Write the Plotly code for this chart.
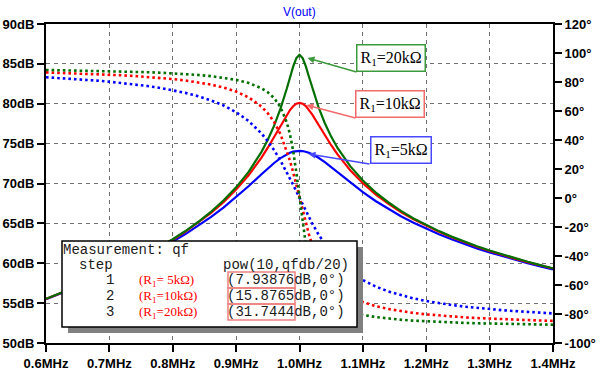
import plotly.graph_objects as go

# ---------------- data ----------------
freq_mhz = [0.60, 0.62, 0.64, 0.66, 0.68, 0.70, 0.72, 0.74, 0.76, 0.78,
            0.80, 0.82, 0.84, 0.86, 0.88, 0.90, 0.92, 0.94, 0.95, 0.96,
            0.97, 0.98, 0.985, 0.99, 0.995, 1.00, 1.005, 1.01, 1.015, 1.02,
            1.03, 1.04, 1.05, 1.06, 1.08, 1.10, 1.12, 1.14, 1.16, 1.18,
            1.20, 1.22, 1.24, 1.26, 1.28, 1.30, 1.32, 1.34, 1.36, 1.38, 1.40]

# magnitude, dB (left axis)
mag_5k = [55.48, 56.09, 56.72, 57.37, 58.03, 58.72, 59.44, 60.19, 60.98, 61.82,
          62.71, 63.66, 64.68, 65.78, 66.98, 68.29, 69.69, 71.16, 71.88, 72.57,
          73.18, 73.67, 73.85, 73.99, 74.07, 74.09, 74.07, 73.99, 73.86, 73.68,
          73.23, 72.67, 72.05, 71.41, 70.12, 68.91, 67.81, 66.81, 65.90, 65.08,
          64.33, 63.64, 63.01, 62.42, 61.87, 61.36, 60.89, 60.44, 60.01, 59.61, 59.23]
mag_10k = [55.52, 56.14, 56.78, 57.43, 58.11, 58.82, 59.55, 60.33, 61.15, 62.02,
           62.95, 63.96, 65.07, 66.29, 67.67, 69.24, 71.07, 73.24, 74.49, 75.83,
           77.25, 78.62, 79.21, 79.69, 80.01, 80.11, 80.01, 79.70, 79.24, 78.67,
           77.37, 76.05, 74.80, 73.65, 71.67, 70.04, 68.65, 67.47, 66.43, 65.51,
           64.69, 63.95, 63.27, 62.65, 62.07, 61.54, 61.04, 60.58, 60.14, 59.73, 59.34]
mag_20k = [55.54, 56.16, 56.80, 57.45, 58.13, 58.84, 59.58, 60.36, 61.19, 62.07,
           63.01, 64.04, 65.17, 66.43, 67.86, 69.52, 71.49, 73.97, 75.49, 77.25,
           79.38, 81.91, 83.30, 84.65, 85.72, 86.14, 85.72, 84.68, 83.36, 82.02,
           79.58, 77.56, 75.88, 74.46, 72.17, 70.37, 68.89, 67.65, 66.57, 65.62,
           64.78, 64.03, 63.34, 62.71, 62.13, 61.59, 61.09, 60.62, 60.18, 59.76, 59.37]

# phase, degrees (right axis)
phase_5k = [83.27, 82.77, 82.23, 81.62, 80.95, 80.19, 79.34, 78.36, 77.23, 75.92,
            74.37, 72.50, 70.23, 67.41, 63.84, 59.17, 52.98, 44.51, 39.17, 32.97,
            25.80, 17.79, 13.50, 9.07, 4.55, 0.0, -4.53, -8.98, -13.30, -17.46,
            -25.15, -31.92, -37.78, -42.80, -50.73, -56.59, -61.00, -64.39, -67.08, -69.26,
            -71.04, -72.54, -73.80, -74.89, -75.83, -76.65, -77.38, -78.02, -78.60, -79.12, -79.59]
phase_10k = [86.62, 86.37, 86.10, 85.79, 85.45, 85.06, 84.62, 84.12, 83.54, 82.85,
             82.03, 81.04, 79.81, 78.25, 76.20, 73.39, 69.34, 63.04, 58.45, 52.38,
             44.04, 32.68, 25.64, 17.70, 9.05, 0.0, -9.00, -17.54, -25.31, -32.17,
             -43.20, -51.25, -57.17, -61.63, -67.77, -71.74, -74.50, -76.53, -78.07, -79.28,
             -80.25, -81.06, -81.74, -82.31, -82.80, -83.23, -83.61, -83.95, -84.24, -84.51, -84.75]
phase_20k = [88.31, 88.18, 88.04, 87.89, 87.72, 87.52, 87.30, 87.05, 86.76, 86.41,
             86.00, 85.49, 84.86, 84.06, 82.99, 81.51, 79.32, 75.72, 72.93, 68.91,
             62.64, 52.05, 43.82, 32.54, 17.65, 0.0, -17.57, -32.28, -43.39, -51.50,
             -61.95, -68.12, -72.11, -74.88, -78.44, -80.63, -82.10, -83.16, -83.96, -84.59,
             -85.09, -85.50, -85.84, -86.13, -86.39, -86.60, -86.79, -86.96, -87.11, -87.25, -87.37]

series_names = ["R1=5kΩ", "R1=10kΩ", "R1=20kΩ"]
label_texts = ["R<sub>1</sub>=5kΩ", "R<sub>1</sub>=10kΩ", "R<sub>1</sub>=20kΩ"]
peak_freq = [1.0142, 1.011, 1.0126]
peak_db = [73.70, 79.84, 85.74]

x_ticks = [0.6, 0.7, 0.8, 0.9, 1.0, 1.1, 1.2, 1.3, 1.4]
x_tick_labels = ["0.6MHz", "0.7MHz", "0.8MHz", "0.9MHz", "1.0MHz",
                 "1.1MHz", "1.2MHz", "1.3MHz", "1.4MHz"]
db_ticks = [50, 55, 60, 65, 70, 75, 80, 85, 90]
db_tick_labels = [f"{v}dB" for v in db_ticks]
deg_ticks = [-100, -80, -60, -40, -20, 0, 20, 40, 60, 80, 100, 120]
deg_tick_labels = [f"{v}°" for v in deg_ticks]

meas_steps = ["1", "2", "3"]
meas_r_labels = ["(R<sub>1</sub>= 5kΩ)", "(R<sub>1</sub>=10kΩ)", "(R<sub>1</sub>=20kΩ)"]
meas_values = ["7.93876", "15.8765", "31.7444"]

# ---------------- styling ----------------
COL = ["#0000ff", "#ff0000", "#006f00"]
BOX_COL = ["#4848ff", "#f26a6a", "#3c9a3c"]

L, R, T, B = 46, 553, 24, 343
W, H = R - L, B - T


def px(X):
    return (X - L) / W


def py(Y):
    return (B - Y) / H


fig = go.Figure()

mags = [mag_5k, mag_10k, mag_20k]
phases = [phase_5k, phase_10k, phase_20k]

for i in range(3):
    fig.add_trace(go.Scatter(
        x=freq_mhz, y=phases[i], yaxis="y2", mode="lines",
        name=series_names[i] + " phase",
        line=dict(color=COL[i], width=2.6, dash="2.6px,3px"),
        hoverinfo="skip", showlegend=False))
for i in range(3):
    fig.add_trace(go.Scatter(
        x=freq_mhz, y=mags[i], mode="lines", name=series_names[i],
        line=dict(color=COL[i], width=2.2),
        showlegend=False))

axis_font = dict(family="Liberation Sans, Arial", size=13, color="black", weight="bold")
common = dict(showline=True, linecolor="black", linewidth=2, ticks="outside",
              ticklen=7, tickwidth=2, tickcolor="black", zeroline=False,
              tickfont=axis_font, automargin=False)

fig.update_layout(
    width=600, height=371,
    margin=dict(l=L, r=600 - R, t=T, b=371 - B),
    paper_bgcolor="white", plot_bgcolor="white",
    showlegend=False,
    xaxis=dict(range=[0.6, 1.4], tickvals=x_ticks, ticktext=x_tick_labels,
               mirror=True, showgrid=True, gridcolor="#707070", gridwidth=1,
               griddash="4px,4px", **common),
    yaxis=dict(range=[50, 90], tickvals=db_ticks, ticktext=db_tick_labels,
               mirror=True, showgrid=True, gridcolor="#707070", gridwidth=1,
               griddash="4px,4px", **common),
    yaxis2=dict(range=[-100, 120], tickvals=deg_ticks, ticktext=deg_tick_labels,
                overlaying="y", side="right", showgrid=False, **common),
)

# title
annotations = [dict(text="V(out)", xref="paper", yref="paper", x=0.5, y=py(12),
                    xanchor="center", yanchor="middle", showarrow=False,
                    font=dict(family="Liberation Sans, Arial", size=12, color="#0000ff"))]

# labelled arrows to the peaks
tail_offsets = [(61, 10), (49, 13), (49, 14)]
for i in range(3):
    annotations.append(dict(
        x=peak_freq[i], y=peak_db[i], xref="x", yref="y",
        text=label_texts[i], showarrow=True,
        ax=tail_offsets[i][0], ay=tail_offsets[i][1],
        xanchor="left", yanchor="bottom",
        font=dict(family="Liberation Serif, Times New Roman", size=16, color="black"),
        bgcolor="white", bordercolor=BOX_COL[i], borderwidth=1.5, borderpad=3,
        arrowcolor=BOX_COL[i], arrowwidth=1.4, arrowhead=2, arrowsize=1))

# measurement box
mono = dict(family="Liberation Mono, Courier New", size=14, color="#1a1a1a")
shapes = [
    dict(type="rect", xref="paper", yref="paper", x0=px(68), x1=px(363),
         y0=py(333), y1=py(247), fillcolor="#808080", line=dict(width=0), layer="above"),
    dict(type="rect", xref="paper", yref="paper", x0=px(62), x1=px(357),
         y0=py(327), y1=py(241), fillcolor="white",
         line=dict(color="black", width=1.5), layer="above"),
]
annotations.append(dict(text="Measurement: qf", xref="paper", yref="paper",
                        x=px(62), y=py(250), xanchor="left", yanchor="middle",
                        showarrow=False, font=mono, borderpad=0))
annotations.append(dict(text="step", xref="paper", yref="paper",
                        x=px(78), y=py(265), xanchor="left", yanchor="middle",
                        showarrow=False, font=mono, borderpad=0))
annotations.append(dict(text="pow(10,qfdb/20)", xref="paper", yref="paper",
                        x=px(222), y=py(265), xanchor="left", yanchor="middle",
                        showarrow=False, font=mono, borderpad=0))
row_y = [280, 296, 312]
for i in range(3):
    annotations.append(dict(text=meas_steps[i], xref="paper", yref="paper",
                            x=px(110), y=py(row_y[i]), xanchor="center", yanchor="middle",
                            showarrow=False, font=mono, borderpad=0))
    annotations.append(dict(text=meas_r_labels[i], xref="paper", yref="paper",
                            x=px(138), y=py(row_y[i]), xanchor="left", yanchor="middle",
                            showarrow=False, borderpad=0,
                            font=dict(family="Liberation Serif, Times New Roman",
                                      size=13, color="#ff0000")))
    annotations.append(dict(text="(" + meas_values[i] + "dB,0°)", xref="paper", yref="paper",
                            x=px(226), y=py(row_y[i]), xanchor="left", yanchor="middle",
                            showarrow=False, font=mono, borderpad=0))
    shapes.append(dict(type="rect", xref="paper", yref="paper",
                       x0=px(228), x1=px(295), y0=py(row_y[i] + 8), y1=py(row_y[i] - 8),
                       line=dict(color="#f08080", width=1.5), layer="above"))

fig.update_layout(annotations=annotations, shapes=shapes)

fig.write_html("out.html", config={"displayModeBar": False},
               post_script="document.body.style.margin='0px';")
